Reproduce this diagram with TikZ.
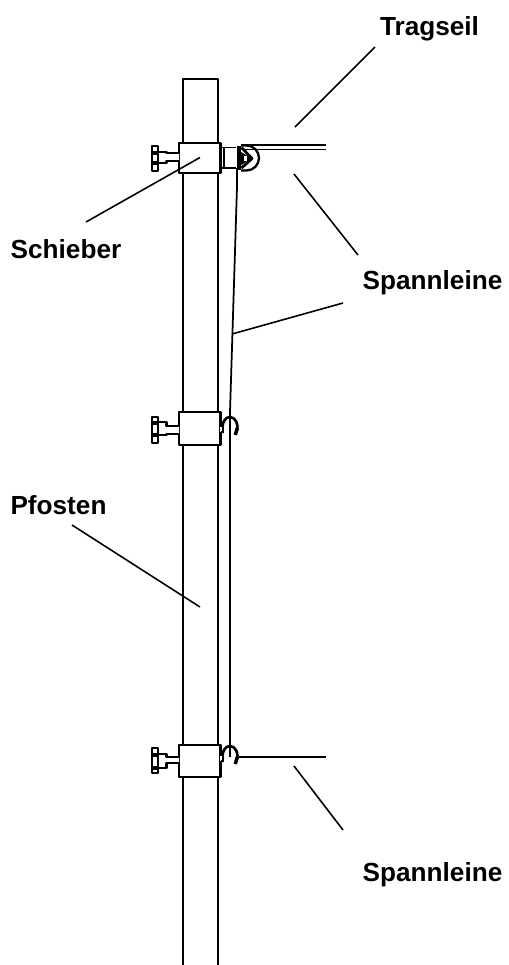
\documentclass[tikz,border=0pt]{standalone}
\usepackage{fontspec}
\setmainfont{Liberation Sans}
\begin{document}
\begin{tikzpicture}[x=0.02cm,y=-0.02cm,line join=round,line cap=butt,>=stealth,line width=1.3pt]
    \tikzset{every node/.style={font=\bfseries\fontsize{14.9}{16}\selectfont,inner sep=0pt,anchor=base},
        leader/.style={line width=0.9pt},
        rope/.style={line width=1pt}}
    \useasboundingbox (0,0) rectangle (508,965);
    % Pfosten
    \draw (183,965)--(183,79)--(217.7,79)--(217.7,965);
    % Schieber mit Klemmschraube
    \foreach \t/\b/\u/\v/\n/\m/\p/\q in {143/173/153/161/152/163/146/171,412/445/426/434/422/435/417/443,745/777/757/763/754/768/748/773}{
        \draw[fill=white] (179,\t) rectangle (220.5,\b);
        \draw[fill=white,line width=1.5pt] (179,\u)--(166.5,\u)--(166.5,\n)--(158,\n)--(158,\m)--(166.5,\m)--(166.5,\v)--(179,\v);
        \draw[fill=white,line width=1.6pt] (152,\p) rectangle (158,\q);
        \draw[line width=1.8pt] (152,\n+1)--(158,\n+1) (152,\m)--(158,\m);
    }
    % Umlenkrolle
    \draw[line width=1pt] (221,147.5)--(236,147.5) (221,168)--(236,168) (224,147.5)--(224,168);
    \draw[line width=2.2pt] (239,146)--(239,170);
    \draw (241,145.5)--(246.5,145.5) arc (-90:90:12.5)--(241,170.5);
    \draw[line width=1.6pt] (241.5,147.5)--(252,158.5)--(241.5,168);
    \draw[fill=black,draw=none] (241,152)--(252,158.5)--(241,165)--cycle;
    \draw[fill=white,draw=none] (243.5,156) rectangle (247,160.5);
    \draw[rope] (241,145)--(326,145) (243,149.5)--(326,149.5);
    % Spannleine
    \draw[rope] (237,168)--(237,187)--(230,412);
    \draw[rope] (230,412)--(230,757);
    % Haken
    \foreach \c in {428,757}{
        \draw[line width=1.5pt] (222.5,\c+5)--(222.5,\c-1) arc (180:380:7.5 and 10);
        \draw[line width=2pt] (237.3,\c)--(235.3,\c+7);
        \draw[fill=white,draw=none] (219.5,\c-1) rectangle (221.5,\c+4);
        \draw (220.5,\c+4)--(222.5,\c+4);
    }
    \draw[rope] (239,757)--(326,757);
    % Beschriftung
    \node (tragseil) at (429.5,35) {Tragseil};
    \node (schieber) at (66,258) {Schieber};
    \node (spannoben) at (432.5,289) {Spannleine};
    \node (pfosten) at (58.5,514) {Pfosten};
    \node (spannunten) at (432.5,881) {Spannleine};
    \coordinate (a1) at (375,47);
    \coordinate (a2) at (295,127);
    \coordinate (b1) at (86,222);
    \coordinate (b2) at (200,157.5);
    \coordinate (c1) at (358,255);
    \coordinate (c2) at (294,174);
    \coordinate (d1) at (343,303);
    \coordinate (d2) at (232,334);
    \coordinate (e1) at (72,525);
    \coordinate (e2) at (200,607);
    \coordinate (f1) at (343,830);
    \coordinate (f2) at (294,766);
    \foreach \s/\z in {a1/a2,b1/b2,c1/c2,d1/d2,e1/e2,f1/f2}
    \draw[leader] (\s)--(\z);
\end{tikzpicture}
\end{document}
